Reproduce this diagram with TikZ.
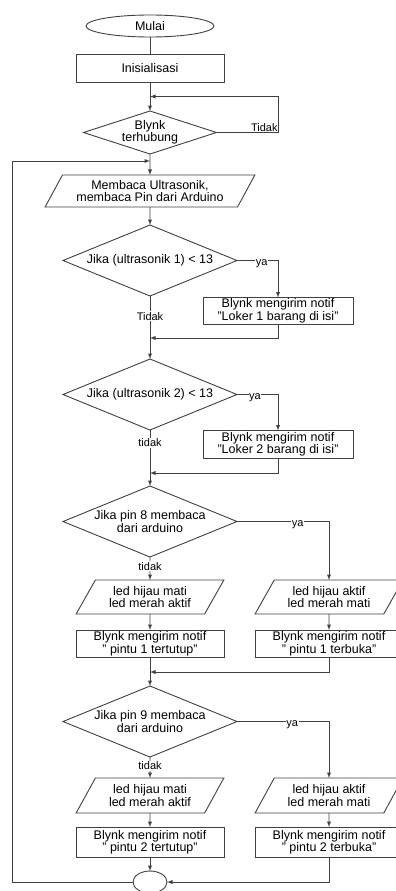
\documentclass[tikz,border=0pt]{standalone}
\usepackage{fontspec}
\setmainfont{Liberation Sans}
\usetikzlibrary{calc}
\usetikzlibrary{arrows}
\usetikzlibrary{shapes.geometric}
\usetikzlibrary{positioning}

\begin{document}
\begin{tikzpicture}[x=1pt,y=-1pt]
    \tikzstyle{every node}=[font=\fontsize{12.5}{12.5}\selectfont,text=black,inner sep=1pt,outer sep=0pt]
    \tikzstyle{every path}=[color=black!75,line width=0.9pt]
    \tikzstyle{term}=[draw,ellipse,minimum width=128pt,minimum height=22pt]
    \tikzstyle{box}=[draw,rectangle,minimum width=148pt,minimum height=28pt,align=center]
    \tikzstyle{io}=[draw,trapezium,trapezium left angle=58,trapezium right angle=122,trapezium stretches=true,minimum width=148pt,minimum height=34pt,align=center]
    \tikzstyle{dec}=[draw,diamond,aspect=2.45,inner sep=0pt,minimum width=174pt,minimum height=71pt,align=center]
    \tikzstyle{lbl}=[fill=white,font=\fontsize{11}{12}\selectfont]
    \tikzstyle{ya}=[lbl,inner sep=0.5pt,yshift=-3pt]

    \useasboundingbox (0,0) rectangle (396,891);

    \node[term] (mulai) at (150,26) {Mulai} ;
    \node[box,below=17pt of mulai] (init) {Inisialisasi} ;
    \node[dec,below=29pt of init,minimum width=133pt,minimum height=43pt,aspect=3] (blynk) {Blynk\\terhubung} ;
    \node[io,below=21pt of blynk,minimum width=210pt,minimum height=32pt] (baca) {Membaca Ultrasonik,\\membaca Pin dari Arduino} ;
    \node[dec,below=18pt of baca] (d1) {Jika (ultrasonik 1) < 13} ;
    \node[dec,below=63pt of d1] (d2) {Jika (ultrasonik 2) < 13} ;
    \node[dec,below=56pt of d2] (d3) {Jika pin 8 membaca\\dari arduino} ;
    \node[io,below=23pt of d3] (p1L) {led hijau mati\\led merah aktif} ;
    \node[box,below=16pt of p1L,minimum height=27pt] (b1L) {Blynk mengirim notif\\" pintu 1 tertutup"} ;
    \node[dec,below=29pt of b1L] (d4) {Jika pin 9 membaca\\dari arduino} ;
    \node[io,below=21pt of d4,minimum height=35pt] (p2L) {led hijau mati\\led merah aktif} ;
    \node[box,below=14pt of p2L,minimum height=30pt] (b2L) {Blynk mengirim notif\\" pintu 2 tertutup"} ;
    \node[term,below=14pt of b2L,minimum width=34pt] (end) {} ;

    \node[box,minimum width=150pt,minimum height=27pt] (lok1) at (278,311) {Blynk mengirim notif\\"Loker 1 barang di isi"} ;
    \node[box,minimum width=150pt] (lok2) at (278,444.5) {Blynk mengirim notif\\"Loker 2 barang di isi"} ;
    \node[io] (p1R) at ([xshift=179pt]p1L.center) {led hijau aktif\\led merah mati} ;
    \node[box,minimum height=27pt] (b1R) at ([xshift=179pt]b1L.center) {Blynk mengirim notif\\" pintu 1 terbuka"} ;
    \node[io,minimum height=35pt] (p2R) at ([xshift=179pt]p2L.center) {led hijau aktif\\led merah mati} ;
    \node[box,minimum height=30pt] (b2R) at ([xshift=179pt]b2L.center) {Blynk mengirim notif\\" pintu 2 terbuka"} ;

    \draw (mulai) -- (init) ;
    \draw[-latex] (init) -- (blynk) ;
    \draw[-latex] (blynk.east) -- ++(62,0) node[lbl,above left,fill=none] {Tidak} |- ($(init.south)!0.5!(blynk.north)$) ;
    \draw[-latex] (blynk) -- (baca) ;
    \draw[-latex] (baca) -- (d1) ;

    \draw[-latex] (d1.east) -| node[ya,pos=0.3] {ya} (lok1.north) ;
    \draw[-latex] (d1) -- node[lbl,pos=0.32] {Tidak} (d2) ;
    \draw[-latex] (lok1.south) |- ([yshift=21pt]d2.north) ;

    \draw[-latex] (d2.east) -| node[ya,pos=0.22] {ya} (lok2.north) ;
    \draw[-latex] (d2) -- node[lbl,pos=0.23] {tidak} (d3) ;
    \draw[-latex] (lok2.south) |- ([yshift=13pt]d3.north) ;

    \draw[-latex] (d3.east) -| node[ya,pos=0.33] {ya} (p1R.north) ;
    \draw[-latex] (d3) -- node[lbl,pos=0.4] {tidak} (p1L) ;
    \draw[-latex] (p1L) -- (b1L) ;
    \draw[-latex] (p1R) -- (b1R) ;
    \draw[-latex] (b1L) -- (d4) ;
    \draw[-latex] (b1R.south) |- ([yshift=14pt]d4.north) ;

    \draw[-latex] (d4.east) -| node[ya,pos=0.3] {ya} (p2R.north) ;
    \draw[-latex] (d4) -- node[lbl,pos=0.43] {tidak} (p2L) ;
    \draw[-latex] (p2L) -- (b2L) ;
    \draw[-latex] (p2R) -- (b2R) ;
    \draw[-latex] (b2L) -- (end) ;
    \draw[-latex] (b2R.south) |- (end.east) ;
    \draw[-latex] (end.west) -- ++(-121,0) |- ([yshift=14pt]baca.north) ;
\end{tikzpicture}
\end{document}
